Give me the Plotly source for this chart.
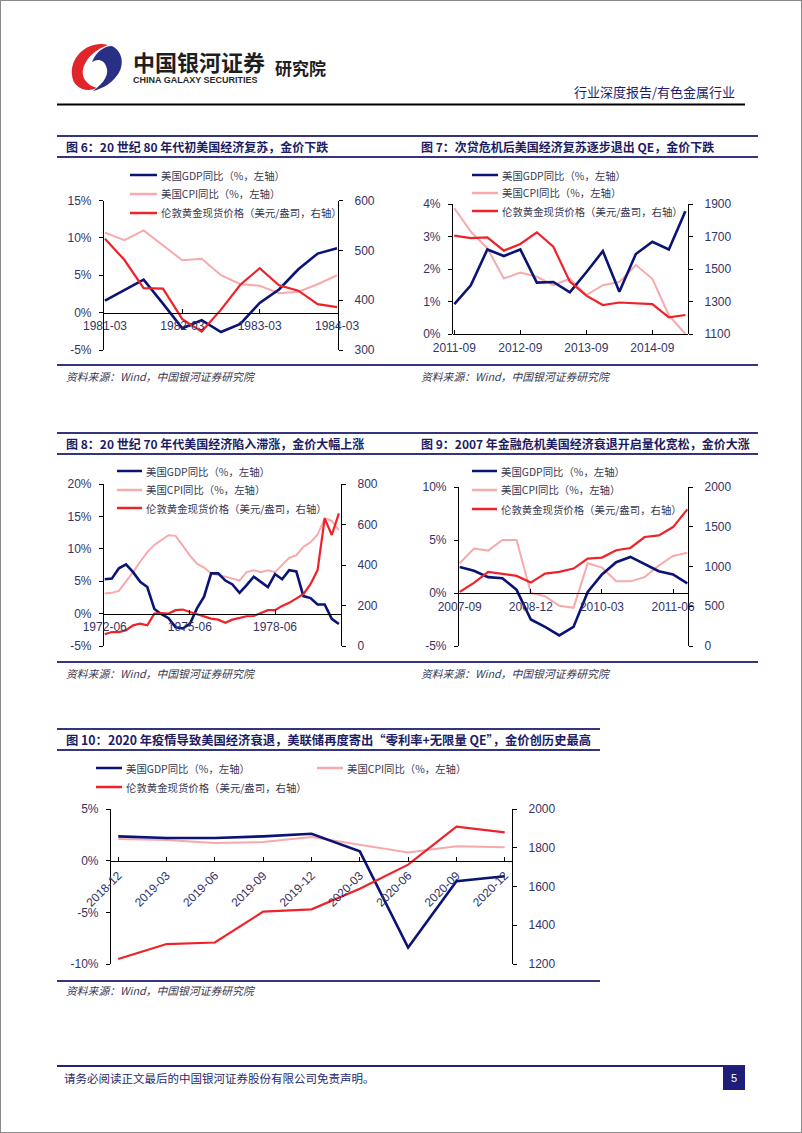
import plotly.graph_objects as go

W, H = 802, 1133

# ---------------- data ----------------
c6_dates = ["1981-03", "1981-06", "1981-09", "1981-12", "1982-03", "1982-06", "1982-09",
            "1982-12", "1983-03", "1983-06", "1983-09", "1983-12", "1984-03"]
c6_gdp = [1.6, 3.0, 4.4, 1.2, -2.1, -1.0, -2.6, -1.5, 1.3, 3.1, 5.8, 7.9, 8.6]
c6_cpi = [10.7, 9.7, 11.0, 9.0, 7.0, 7.2, 5.0, 3.8, 3.6, 2.6, 2.8, 3.8, 5.0]
c6_gold = [523, 481, 424, 423, 362, 337, 381, 431, 464, 430, 419, 392, 386]
c6_xticks = ["1981-03", "1982-03", "1983-03", "1984-03"]
c6_lticks = [-5, 0, 5, 10, 15]
c6_ltext = ["-5%", "0%", "5%", "10%", "15%"]
c6_rticks = [300, 400, 500, 600]

c7_dates = ["2011-09", "2011-12", "2012-03", "2012-06", "2012-09", "2012-12", "2013-03", "2013-06",
            "2013-09", "2013-12", "2014-03", "2014-06", "2014-09", "2014-12", "2015-03"]
c7_gdp = [0.92, 1.5, 2.6, 2.4, 2.6, 1.58, 1.6, 1.28, 1.9, 2.55, 1.3, 2.46, 2.84, 2.6, 3.78]
c7_cpi = [3.87, 3.15, 2.64, 1.71, 1.89, 1.76, 1.5, 1.7, 1.2, 1.5, 1.6, 2.12, 1.7, 0.58, 0.0]
c7_gold = [1705, 1690, 1695, 1613, 1654, 1726, 1637, 1422, 1336, 1278, 1294, 1290, 1284, 1203, 1217]
c7_xticks = ["2011-09", "2012-09", "2013-09", "2014-09"]
c7_lticks = [0, 1, 2, 3, 4]
c7_ltext = ["0%", "1%", "2%", "3%", "4%"]
c7_rticks = [1100, 1300, 1500, 1700, 1900]

c8_dates = ["1972-06", "1972-09", "1972-12",
            "1973-03", "1973-06", "1973-09", "1973-12",
            "1974-03", "1974-06", "1974-09", "1974-12",
            "1975-03", "1975-06", "1975-09", "1975-12",
            "1976-03", "1976-06", "1976-09", "1976-12",
            "1977-03", "1977-06", "1977-09", "1977-12",
            "1978-03", "1978-06", "1978-09", "1978-12",
            "1979-03", "1979-06", "1979-09", "1979-12",
            "1980-03", "1980-06", "1980-09"]
c8_gdp = [5.3, 5.4, 7.0, 7.6, 6.4, 4.9, 4.1, 0.7, -0.1, -0.7, -2.1, -2.3, -1.6, 0.8, 2.6, 6.2, 6.2,
          5.1, 4.5, 3.2, 4.4, 5.7, 4.9, 4.1, 6.1, 5.3, 6.7, 6.5, 2.7, 2.4, 1.4, 1.4, -0.8, -1.6]
c8_cpi = [3.1, 3.2, 3.5, 4.9, 6.4, 8.0, 9.5, 10.6, 11.4, 12.1, 12.0, 10.4, 9.0, 7.7, 7.1, 6.2, 6.0,
          5.7, 5.4, 5.1, 6.4, 6.7, 6.4, 6.7, 6.4, 7.5, 8.6, 9.0, 10.3, 11.0, 12.2, 14.7, 14.3, 12.9]
c8_gold = [58, 69, 69, 78, 102, 110, 102, 160, 163, 160, 177, 180, 168, 157, 144, 135, 130,
           115, 130, 140, 147, 148, 163, 177, 177, 198, 213, 234, 256, 305, 375, 630, 548, 655]
c8_xticks = ["1972-06", "1975-06", "1978-06"]
c8_lticks = [-5, 0, 5, 10, 15, 20]
c8_ltext = ["-5%", "0%", "5%", "10%", "15%", "20%"]
c8_rticks = [0, 200, 400, 600, 800]

c9_dates = ["2007-09", "2007-12", "2008-03", "2008-06", "2008-09", "2008-12", "2009-03", "2009-06",
            "2009-09", "2009-12", "2010-03", "2010-06", "2010-09", "2010-12", "2011-03", "2011-06",
            "2011-09"]
c9_gdp = [2.45, 2.1, 1.5, 1.4, 0.3, -2.5, -3.2, -4.0, -3.2, 0.1, 1.75, 2.9, 3.4, 2.75, 2.05, 1.75, 0.9]
c9_cpi = [2.8, 4.2, 4.0, 5.0, 5.0, 0.0, -0.3, -1.2, -1.4, 2.8, 2.4, 1.1, 1.1, 1.5, 2.6, 3.5, 3.8]
c9_gold = [680, 794, 932, 903, 882, 798, 911, 932, 974, 1099, 1112, 1204, 1233, 1371, 1392, 1496, 1718]
c9_xticks = ["2007-09", "2008-12", "2010-03", "2011-06"]
c9_lticks = [-5, 0, 5, 10]
c9_ltext = ["-5%", "0%", "5%", "10%"]
c9_rticks = [0, 500, 1000, 1500, 2000]

c10_dates = ["2018-12", "2019-03", "2019-06", "2019-09", "2019-12", "2020-03", "2020-06",
             "2020-09", "2020-12"]
c10_gdp = [2.35, 2.2, 2.2, 2.35, 2.6, 0.9, -8.4, -2.0, -1.5]
c10_cpi = [2.1, 2.0, 1.7, 1.8, 2.3, 1.55, 0.8, 1.4, 1.3]
c10_gold = [1226, 1303, 1311, 1470, 1482, 1588, 1713, 1909, 1879]
c10_xticks = c10_dates
c10_lticks = [-10, -5, 0, 5]
c10_ltext = ["-10%", "-5%", "0%", "5%"]
c10_rticks = [1200, 1400, 1600, 1800, 2000]

series_names = ["美国GDP同比（%，左轴）", "美国CPI同比（%，左轴）", "伦敦黄金现货价格（美元/盎司，右轴）"]
titles = [
    "图 6：20 世纪 80 年代初美国经济复苏，金价下跌",
    "图 7：次贷危机后美国经济复苏逐步退出 QE，金价下跌",
    "图 8：20 世纪 70 年代美国经济陷入滞涨，金价大幅上涨",
    "图 9：2007 年金融危机美国经济衰退开启量化宽松，金价大涨",
    "图 10：2020 年疫情导致美国经济衰退，美联储再度寄出“零利率+无限量 QE”，金价创历史最高",
]
source_text = "资料来源：Wind，中国银河证券研究院"

# ---------------- style ----------------
NAVY = "#0B1374"
PINK = "#F7A9AB"
RED = "#EE2229"
TITLE_C = "#1C1C64"
RULE_C = "#35357E"
TICK_C = "#343466"
LEG_C = "#383850"
CJK = "Noto Sans CJK SC"
LAT = "Liberation Sans, Arial, sans-serif"


def fx(x):
    return x / W


def fy(y):
    return 1 - y / H


shapes, annots = [], []


def hline(x0, x1, y, color=RULE_C, w=2):
    shapes.append(dict(type="line", xref="paper", yref="paper", x0=fx(x0), x1=fx(x1),
                       y0=fy(y), y1=fy(y), line=dict(color=color, width=w)))


def text(x, y, s, size, color, anchor="left", family=CJK):
    annots.append(dict(xref="paper", yref="paper", x=fx(x), y=fy(y), text=s, showarrow=False,
                       xanchor=anchor, yanchor="middle",
                       font=dict(size=size, color=color, family=family)))


def pth(cmds):
    out = []
    for c in cmds:
        op, pts = c[0], c[1:]
        vals = []
        for k in range(0, len(pts), 2):
            vals.append(f"{fx(pts[k]):.5f},{fy(pts[k + 1]):.5f}")
        out.append(op + " " + " ".join(vals))
    return " ".join(out) + " Z"


charts = [
    dict(d=c6_dates, g=c6_gdp, c=c6_cpi, au=c6_gold, xpx=(104, 338), ypx=(200.5, 350),
         lr=(-5, 15), rr=(300, 600), lt=c6_lticks, ltx=c6_ltext, rt=c6_rticks, xt=c6_xticks,
         xr=(-0.05, 12.05), ang=0,
         leg=[(130, 157, 175), (130, 157, 194), (130, 157, 213)]),
    dict(d=c7_dates, g=c7_gdp, c=c7_cpi, au=c7_gold, xpx=(453, 688), ypx=(204, 334),
         lr=(0, 4), rr=(1100, 1900), lt=c7_lticks, ltx=c7_ltext, rt=c7_rticks, xt=c7_xticks,
         xr=(-0.08, 14.16), ang=0,
         leg=[(472, 498, 175), (472, 498, 193), (472, 498, 211)]),
    dict(d=c8_dates, g=c8_gdp, c=c8_cpi, au=c8_gold, xpx=(104, 341), ypx=(484, 646),
         lr=(-5, 20), rr=(0, 800), lt=c8_lticks, ltx=c8_ltext, rt=c8_rticks, xt=c8_xticks,
         xr=(-0.1, 33.3), ang=0,
         leg=[(117, 142, 471), (117, 142, 490), (117, 142, 508)]),
    dict(d=c9_dates, g=c9_gdp, c=c9_cpi, au=c9_gold, xpx=(459, 688), ypx=(487, 646),
         lr=(-5, 10), rr=(0, 2000), lt=c9_lticks, ltx=c9_ltext, rt=c9_rticks, xt=c9_xticks,
         xr=(-0.05, 16.05), ang=0,
         leg=[(472, 497, 471), (472, 497, 490), (472, 497, 509)]),
    dict(d=c10_dates, g=c10_gdp, c=c10_cpi, au=c10_gold, xpx=(111, 512), ypx=(809, 964),
         lr=(-10, 5), rr=(1200, 2000), lt=c10_lticks, ltx=c10_ltext, rt=c10_rticks, xt=c10_xticks,
         xr=(-0.15, 8.15), ang=-45,
         leg=[(96, 122, 768), (317, 343, 768), (96, 122, 787)]),
]

fig = go.Figure()
layout = {}
tickfont = dict(family=LAT, size=12, color=TICK_C)

for i, ch in enumerate(charts):
    xn = i + 1
    yl, yr = 2 * i + 1, 2 * i + 2
    xa = "x" if xn == 1 else f"x{xn}"
    yla = "y" if yl == 1 else f"y{yl}"
    yra = f"y{yr}"
    xdom = [fx(ch["xpx"][0]), fx(ch["xpx"][1])]
    ydom = [fy(ch["ypx"][1]), fy(ch["ypx"][0])]
    lo, hi = ch["lr"]
    pos0 = ydom[0] + (0 - lo) / (hi - lo) * (ydom[1] - ydom[0])

    layout["xaxis" + ("" if xn == 1 else str(xn))] = dict(
        domain=xdom, type="category", range=list(ch["xr"]), anchor="free", position=pos0,
        showline=True, linecolor="#000000", linewidth=1.2, ticks="inside", ticklen=4,
        tickcolor="#000000", tickvals=ch["xt"], ticktext=ch["xt"], tickangle=ch["ang"],
        tickfont=tickfont, showgrid=False, zeroline=False, ticklabelstandoff=2,
        automargin=False)
    layout["yaxis" + ("" if yl == 1 else str(yl))] = dict(
        domain=ydom, range=list(ch["lr"]), anchor=xa, side="left", showline=True,
        linecolor="#000000", linewidth=1.2, ticks="outside", ticklen=4, tickcolor="#000000",
        tickvals=ch["lt"], ticktext=ch["ltx"], tickfont=tickfont, showgrid=False,
        zeroline=False, ticklabelstandoff=5, automargin=False)
    layout["yaxis" + str(yr)] = dict(
        range=list(ch["rr"]), anchor=xa, overlaying=yla, side="right", showline=True,
        linecolor="#000000", linewidth=1.2, ticks="outside", ticklen=4, tickcolor="#000000",
        tickvals=ch["rt"], ticktext=[str(v) for v in ch["rt"]], tickfont=tickfont,
        showgrid=False, zeroline=False, ticklabelstandoff=9, automargin=False)

    fig.add_trace(go.Scatter(x=ch["d"], y=ch["c"], mode="lines", line=dict(color=PINK, width=2),
                             xaxis=xa, yaxis=yla, showlegend=False, hoverinfo="skip"))
    fig.add_trace(go.Scatter(x=ch["d"], y=ch["g"], mode="lines", line=dict(color=NAVY, width=2.6),
                             xaxis=xa, yaxis=yla, showlegend=False, hoverinfo="skip"))
    fig.add_trace(go.Scatter(x=ch["d"], y=ch["au"], mode="lines", line=dict(color=RED, width=2.2),
                             xaxis=xa, yaxis=yra, showlegend=False, hoverinfo="skip"))

    # manual legends
    for (x0, x1, yy), name, col in zip(ch["leg"], series_names, [NAVY, PINK, RED]):
        hline(x0, x1, yy, color=col, w=2.5)
        text(x1 + 2, yy, name, 10.4, LEG_C)

# ---------- titles, rules, sources ----------
hline(57, 758, 136)
hline(57, 758, 157)
hline(57, 758, 365)
hline(57, 758, 433)
hline(57, 758, 454)
hline(57, 758, 662)
hline(57, 600, 729)
hline(57, 600, 750)
hline(57, 600, 981)

text(64, 146.5, "<b>" + titles[0] + "</b>", 12, TITLE_C)
text(419, 146.5, "<b>" + titles[1] + "</b>", 12, TITLE_C)
text(64, 443.5, "<b>" + titles[2] + "</b>", 12, TITLE_C)
text(419, 443.5, "<b>" + titles[3] + "</b>", 12, TITLE_C)
text(64, 739.5, "<b>" + titles[4] + "</b>", 12.3, TITLE_C)

for sx, sy in [(64, 376), (419, 376), (64, 673), (419, 673), (64, 990)]:
    text(sx, sy, "<i>" + source_text + "</i>", 10.8, LEG_C)

# ---------- header ----------
shapes.append(dict(type="path", xref="paper", yref="paper", line=dict(width=0),
                   fillcolor="#E0262B",
                   path=pth([("M", 108, 45), ("C", 89, 40, 70, 56, 72, 75),
                             ("C", 73, 88, 86, 93, 97, 88), ("C", 86, 85, 80, 76, 84, 66),
                             ("C", 88, 56, 97, 49, 108, 45)])))
shapes.append(dict(type="path", xref="paper", yref="paper", line=dict(width=0),
                   fillcolor="#2A2F86",
                   path=pth([("M", 112, 46), ("C", 124, 52, 125, 68, 115, 78),
                             ("C", 109, 85, 101, 89, 93, 91), ("C", 104, 83, 110, 74, 106, 66),
                             ("C", 104, 60, 98, 58, 92, 62), ("C", 96, 52, 104, 46, 112, 46)])))
text(131, 61, "<b>中国银河证券</b>", 22, "#1E1E1E")
text(131, 80.5, "<b>CHINA GALAXY SECURITIES</b>", 9, "#2A2A2A", family=LAT)
text(273, 67.5, "<b>研究院</b>", 17, "#1E1E1E")
text(737, 91, "行业深度报告/有色金属行业", 13, "#1C1C6E", anchor="right")
hline(57, 745, 104.5, color="#000000", w=2)

# ---------- footer ----------
hline(57, 745, 1066, color="#22227A", w=2)
text(62, 1077.5, "请务必阅读正文最后的中国银河证券股份有限公司免责声明。", 11.5, "#2A2A6A")
shapes.append(dict(type="rect", xref="paper", yref="paper", x0=fx(723), x1=fx(745),
                   y0=fy(1090), y1=fy(1066), fillcolor="#1E1E7A", line=dict(width=0)))
text(734, 1078, "5", 11, "#FFFFFF", anchor="center", family=LAT)

# page frame
shapes.append(dict(type="rect", xref="paper", yref="paper", x0=0, x1=1, y0=0, y1=1,
                   line=dict(color="#8A8A8A", width=2), fillcolor="rgba(0,0,0,0)"))

fig.update_layout(template="none", width=W, height=H, autosize=False,
                  margin=dict(l=0, r=0, t=0, b=0, pad=0),
                  paper_bgcolor="white", plot_bgcolor="rgba(0,0,0,0)", showlegend=False,
                  shapes=shapes, annotations=annots, **layout)

fig.write_html("out.html", include_plotlyjs=True, config={"displayModeBar": False},
               post_script="document.body.style.margin='0px';document.body.style.overflow='hidden';")
